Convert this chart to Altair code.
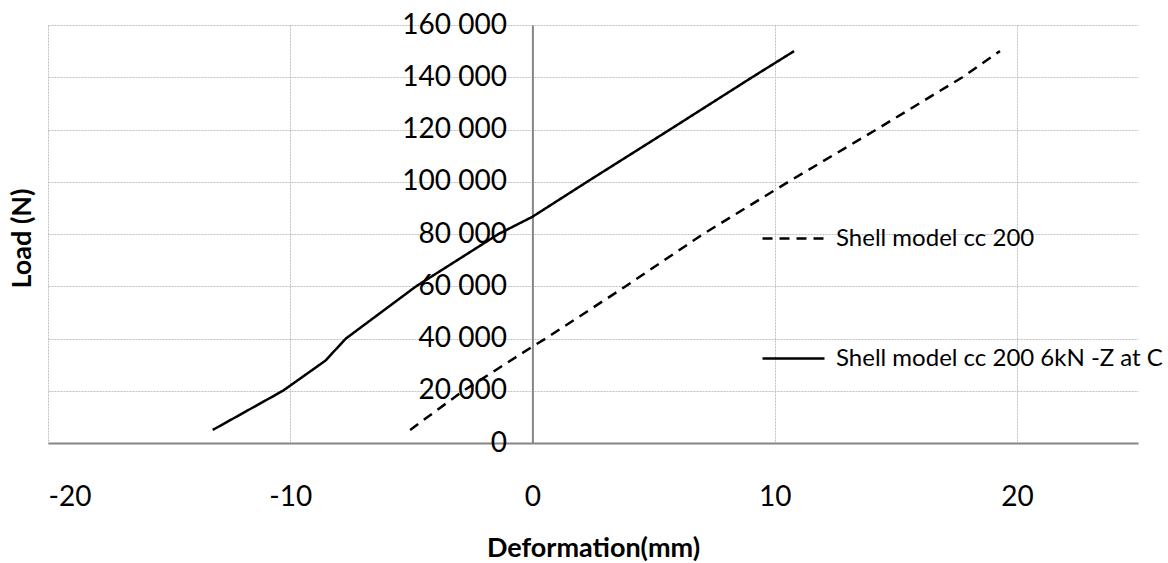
import altair as alt
import pandas as pd

series_names = ["Shell model cc 200", "Shell model cc 200 6kN -Z at C"]

# Series 1: dashed
dash_def = [-5.05, -2.85, 0.0, 0.55, 3.85, 7.05, 10.57, 14.2, 17.75, 19.3]
dash_load = [5000, 20000, 36900, 40000, 60000, 80000, 100000, 120000, 140000, 150000]

# Series 2: solid
solid_def = [-13.2, -10.3, -8.55, -7.7, -6.25, -4.8, -1.4, 0.0, 2.26, 5.68, 9.07, 10.8]
solid_load = [5000, 20000, 31500, 40000, 50000, 60000, 80000, 86600, 100000, 120000, 140000, 150000]

x_ticks = [-20, -10, 0, 10, 20]
y_ticks = [0, 20000, 40000, 60000, 80000, 100000, 120000, 140000, 160000]

rows = []
for i, (d, l) in enumerate(zip(dash_def, dash_load)):
    rows.append({"series": series_names[0], "def": d, "load": l, "ord": i})
for i, (d, l) in enumerate(zip(solid_def, solid_load)):
    rows.append({"series": series_names[1], "def": d, "load": l, "ord": i})
df = pd.DataFrame(rows)

W, H = 1090, 418
FONT = "Lato"

chart = alt.Chart(df).mark_line(color="black", strokeWidth=2.5).encode(
    x=alt.X("def:Q", scale=alt.Scale(domain=[-20, 25], nice=False, zero=False),
            axis=alt.Axis(values=x_ticks, title="Deformation(mm)", grid=True,
                          ticks=False, labelPadding=40, labelFontSize=28,
                          labelFont=FONT, labelColor="black",
                          labelExpr="'' + datum.value",
                          domainColor="#868686", domainWidth=2,
                          titleFont=FONT, titleFontSize=27, titleFontWeight="bold",
                          titleColor="black", titleY=105, titleBaseline="middle")),
    y=alt.Y("load:Q", scale=alt.Scale(domain=[0, 160000], nice=False),
            axis=alt.Axis(values=y_ticks, title="Load (N)", grid=True,
                          ticks=False, offset=-484.4, labelPadding=26,
                          labelFontSize=28, labelFont=FONT, labelColor="black",
                          labelExpr="replace(format(datum.value, ','), regexp(',', 'g'), ' ')",
                          domainColor="#868686", domainWidth=2,
                          titleFont=FONT, titleFontSize=27, titleFontWeight="bold",
                          titleColor="black", titleX=-510, titleY=213,
                          titleAngle=270, titleAlign="center", titleBaseline="middle")),
    strokeDash=alt.StrokeDash("series:N",
                              scale=alt.Scale(domain=series_names, range=[[10, 7], [1, 0]]),
                              legend=alt.Legend(title=None, orient="none", legendX=713,
                                                legendY=181, symbolType="stroke",
                                                symbolSize=3844, symbolStrokeWidth=2.5,
                                                symbolStrokeColor="black",
                                                labelFont=FONT, labelFontSize=24,
                                                labelColor="black", labelOffset=10,
                                                labelLimit=600, rowPadding=75,
                                                padding=0)),
    detail="series:N",
    order="ord:Q",
).properties(
    width=W, height=H,
    autosize=alt.AutoSizeParams(type="none"),
    padding={"left": 48, "top": 25, "right": 30, "bottom": 120},
).configure_axis(
    gridColor="#c0c0c0", gridDash=[2, 1], gridWidth=1,
).configure_view(stroke=None)

chart.save("out.html", embed_options={"renderer": "svg", "actions": False})
